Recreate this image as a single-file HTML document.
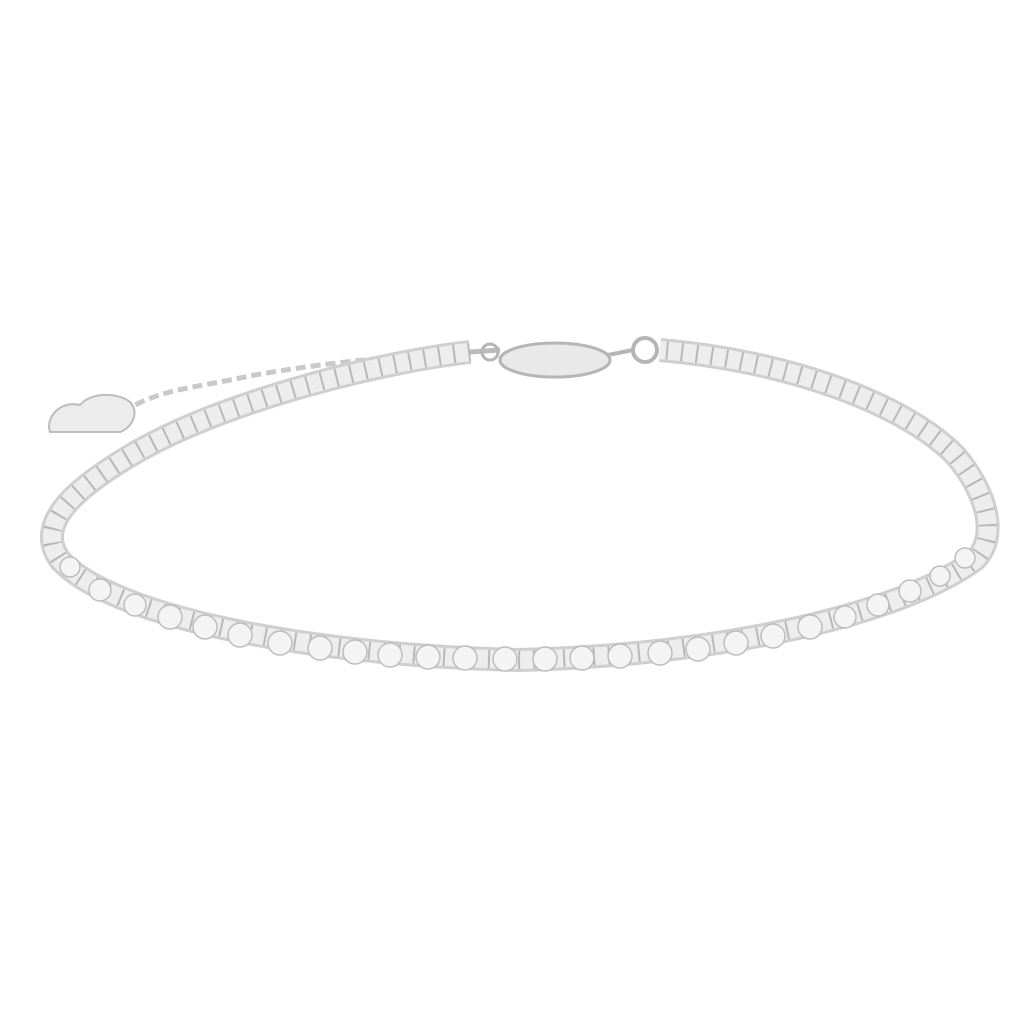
<!DOCTYPE html>
<html><head><meta charset="utf-8"><style>
html,body{margin:0;padding:0;background:#fff;width:1024px;height:1024px;overflow:hidden}
</style></head><body>
<svg width="1024" height="1024" viewBox="0 0 1024 1024" xmlns="http://www.w3.org/2000/svg">
<defs>
<path id="band" d="M470,352 C380,362 230,400 140,450 C70,490 35,525 60,560 C110,615 300,655 520,660 C720,655 900,615 975,560 C1000,535 985,490 955,455 C900,400 780,360 660,350"/>
</defs>
<!-- chain to heart -->
<path d="M470,352 C400,355 300,365 230,380 C190,388 165,390 135,405" fill="none" stroke="#c9c9c9" stroke-width="5" stroke-dasharray="10 5"/>
<!-- heart -->
<path d="M50,432 C45,418 60,400 80,405 C90,392 118,392 130,402 C140,412 132,428 120,432 Z" fill="#ececec" stroke="#bdbdbd" stroke-width="2"/>
<!-- bracelet body -->
<use href="#band" fill="none" stroke="#cfcfcf" stroke-width="24"/>
<use href="#band" fill="none" stroke="#ededed" stroke-width="18"/>
<use href="#band" fill="none" stroke="#b8b8b8" stroke-width="18" stroke-dasharray="2 13"/>
<!-- front stones -->
<g fill="#f4f4f4" stroke="#bdbdbd" stroke-width="1.5">
<circle cx="70" cy="567" r="10"/><circle cx="100" cy="590" r="11"/><circle cx="135" cy="605" r="11"/>
<circle cx="170" cy="617" r="12"/><circle cx="205" cy="627" r="12"/><circle cx="240" cy="635" r="12"/>
<circle cx="280" cy="643" r="12"/><circle cx="320" cy="648" r="12"/><circle cx="355" cy="652" r="12"/>
<circle cx="390" cy="655" r="12"/><circle cx="428" cy="657" r="12"/><circle cx="465" cy="658" r="12"/>
<circle cx="505" cy="659" r="12"/><circle cx="545" cy="659" r="12"/><circle cx="582" cy="658" r="12"/>
<circle cx="620" cy="656" r="12"/><circle cx="660" cy="653" r="12"/><circle cx="698" cy="649" r="12"/>
<circle cx="736" cy="643" r="12"/><circle cx="773" cy="636" r="12"/><circle cx="810" cy="627" r="12"/>
<circle cx="845" cy="617" r="11"/><circle cx="878" cy="605" r="11"/><circle cx="910" cy="591" r="11"/>
<circle cx="940" cy="576" r="10"/><circle cx="965" cy="558" r="10"/>
</g>
<!-- clasp -->
<path d="M470,352 L500,350" stroke="#bbb" stroke-width="5"/>
<ellipse cx="555" cy="360" rx="55" ry="17" fill="#e9e9e9" stroke="#b5b5b5" stroke-width="3"/>
<circle cx="645" cy="350" r="12" fill="none" stroke="#b5b5b5" stroke-width="4"/>
<path d="M608,355 L633,350" stroke="#b5b5b5" stroke-width="4"/>
<circle cx="490" cy="352" r="8" fill="none" stroke="#b5b5b5" stroke-width="3"/>
</svg>
</body></html>
